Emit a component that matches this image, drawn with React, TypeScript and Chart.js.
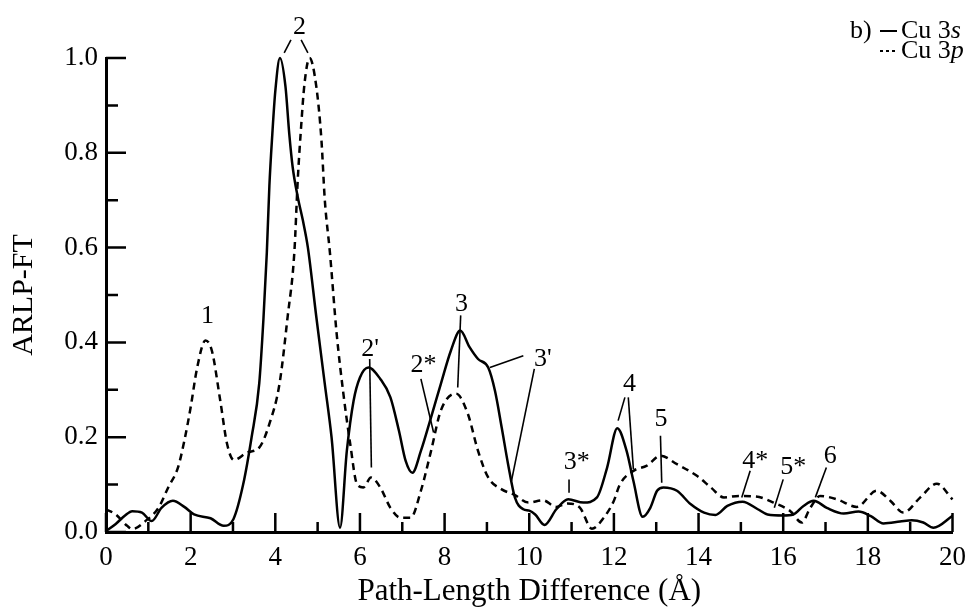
import { useEffect, useRef } from "react";
import { Chart, registerables } from "chart.js";
Chart.register(...registerables);

const FONT = '"Liberation Serif", "Times New Roman", serif';

// Cu 3s (solid)
const s3sX = [0, 0.23, 0.45, 0.62, 0.85, 1.08, 1.31, 1.58, 1.85, 2.08, 2.47, 2.78, 3.01, 3.24, 3.44, 3.62, 3.72, 3.8, 3.86, 3.93, 4.0, 4.11, 4.24, 4.33, 4.41, 4.53, 4.65, 4.77, 4.97, 5.17, 5.33, 5.53, 5.69, 5.85, 6.0, 6.2, 6.48, 6.72, 6.92, 7.08, 7.24, 7.44, 7.68, 7.91, 8.15, 8.37, 8.59, 8.79, 9.03, 9.19, 9.35, 9.5, 9.66, 9.86, 10.0, 10.14, 10.36, 10.64, 10.92, 11.28, 11.6, 11.84, 12.08, 12.3, 12.46, 12.68, 12.86, 13.02, 13.17, 13.49, 13.81, 14.13, 14.4, 14.68, 15.04, 15.4, 15.63, 16.0, 16.24, 16.48, 16.72, 17.03, 17.43, 17.78, 18.06, 18.37, 18.76, 19.04, 19.31, 19.55, 20.0];
const s3sY = [0.002, 0.017, 0.035, 0.044, 0.041, 0.023, 0.051, 0.066, 0.053, 0.037, 0.029, 0.013, 0.027, 0.1, 0.2, 0.313, 0.45, 0.59, 0.73, 0.84, 0.93, 1.0, 0.94, 0.84, 0.77, 0.707, 0.658, 0.6, 0.453, 0.312, 0.199, 0.009, 0.171, 0.277, 0.326, 0.347, 0.323, 0.284, 0.214, 0.15, 0.125, 0.171, 0.242, 0.312, 0.383, 0.425, 0.39, 0.365, 0.347, 0.298, 0.22, 0.143, 0.073, 0.048, 0.045, 0.037, 0.015, 0.048, 0.069, 0.062, 0.073, 0.136, 0.219, 0.171, 0.108, 0.032, 0.051, 0.087, 0.094, 0.087, 0.059, 0.041, 0.036, 0.055, 0.064, 0.048, 0.037, 0.035, 0.037, 0.055, 0.066, 0.051, 0.039, 0.043, 0.034, 0.018, 0.022, 0.025, 0.02, 0.009, 0.034];

// Cu 3p (dashed)
const s3pX = [0, 0.23, 0.5, 0.62, 0.93, 1.24, 1.47, 1.7, 1.85, 2.0, 2.15, 2.35, 2.5, 2.7, 2.86, 3.02, 3.34, 3.62, 3.86, 4.1, 4.29, 4.45, 4.53, 4.61, 4.69, 4.81, 4.97, 5.09, 5.17, 5.29, 5.45, 5.61, 5.77, 5.93, 6.08, 6.26, 6.48, 6.72, 6.96, 7.2, 7.44, 7.68, 7.91, 8.27, 8.55, 8.79, 9.03, 9.35, 9.66, 9.98, 10.32, 10.64, 10.9, 11.2, 11.48, 11.76, 12.0, 12.14, 12.46, 12.78, 13.1, 13.49, 13.97, 14.29, 14.6, 14.95, 15.35, 15.8, 16.17, 16.44, 16.64, 16.87, 17.27, 17.74, 18.21, 18.53, 18.84, 19.24, 19.63, 20.0];
const s3pY = [0.048, 0.037, 0.013, 0.006, 0.023, 0.051, 0.094, 0.136, 0.192, 0.263, 0.345, 0.404, 0.383, 0.277, 0.186, 0.152, 0.168, 0.178, 0.228, 0.313, 0.453, 0.59, 0.742, 0.855, 0.946, 1.0, 0.939, 0.827, 0.7, 0.59, 0.418, 0.291, 0.186, 0.101, 0.094, 0.115, 0.094, 0.051, 0.03, 0.03, 0.087, 0.171, 0.256, 0.292, 0.249, 0.171, 0.115, 0.09, 0.078, 0.062, 0.067, 0.053, 0.06, 0.051, 0.007, 0.03, 0.066, 0.1, 0.129, 0.14, 0.161, 0.143, 0.118, 0.094, 0.073, 0.076, 0.075, 0.061, 0.044, 0.02, 0.051, 0.076, 0.069, 0.053, 0.087, 0.066, 0.041, 0.073, 0.102, 0.069];

const xTickLabels = ["0", "2", "4", "6", "8", "10", "12", "14", "16", "18", "20"];
const yTickLabels = ["0.0", "0.2", "0.4", "0.6", "0.8", "1.0"];

// peak labels: text, label x, label y, leader lines [x1, y1, x2, y2] (data units)
const peakLabels: [string, number, number, number[][]][] = [
  ["1", 2.4, 0.455, []],
  ["2", 4.57, 1.066, [[4.37, 1.038, 4.21, 1.011], [4.61, 1.038, 4.77, 1.011]]],
  ["2'", 6.24, 0.386, [[6.23, 0.365, 6.27, 0.136]]],
  ["2*", 7.5, 0.351, [[7.44, 0.323, 7.74, 0.21]]],
  ["3", 8.4, 0.481, [[8.38, 0.457, 8.31, 0.305]]],
  ["3'", 10.32, 0.365, [[9.86, 0.372, 9.07, 0.347], [10.12, 0.344, 9.58, 0.108]]],
  ["3*", 11.12, 0.147, [[10.94, 0.111, 10.94, 0.083]]],
  ["4", 12.37, 0.312, [[12.26, 0.284, 12.1, 0.235], [12.34, 0.284, 12.46, 0.133]]],
  ["5", 13.11, 0.238, [[13.1, 0.203, 13.13, 0.104]]],
  ["4*", 15.34, 0.15, [[15.22, 0.129, 15.02, 0.073]]],
  ["5*", 16.24, 0.136, [[16.0, 0.111, 15.79, 0.051]]],
  ["6", 17.11, 0.161, [[17.02, 0.136, 16.76, 0.073]]],
];

const legendTag = "b)";
const seriesNames = ["Cu 3", "Cu 3"];
const seriesSuffix = ["s", "p"];

const toPts = (xs: number[], ys: number[]) => xs.map((x, i) => ({ x, y: ys[i] }));

const inwardTicks = {
  id: "inwardTicks",
  afterDatasetsDraw(chart: any) {
    const { ctx, chartArea: a, scales } = chart;
    ctx.save();
    ctx.strokeStyle = "#000";
    ctx.lineWidth = 2.5;
    ctx.beginPath();
    for (const t of scales.x.ticks) {
      const px = scales.x.getPixelForValue(t.value);
      const major = Math.round(t.value) % 2 === 0;
      ctx.moveTo(px, a.bottom);
      ctx.lineTo(px, a.bottom - (major ? 19 : 10));
    }
    for (const t of scales.y.ticks) {
      const py = scales.y.getPixelForValue(t.value);
      const major = Math.round(t.value * 10) % 2 === 0;
      ctx.moveTo(a.left, py);
      ctx.lineTo(a.left + (major ? 20 : 12), py);
    }
    ctx.stroke();
    ctx.restore();
  },
};

const annotations = {
  id: "annotations",
  afterDatasetsDraw(chart: any) {
    const { ctx, scales } = chart;
    const X = (v: number) => scales.x.getPixelForValue(v);
    const Y = (v: number) => scales.y.getPixelForValue(v);
    ctx.save();
    ctx.fillStyle = "#000";
    ctx.strokeStyle = "#000";
    ctx.lineWidth = 1.6;
    ctx.font = `26px ${FONT}`;
    ctx.textAlign = "center";
    ctx.textBaseline = "middle";
    for (const [txt, lx, ly, lines] of peakLabels) {
      ctx.fillText(txt, X(lx), Y(ly));
      for (const [x1, y1, x2, y2] of lines) {
        ctx.beginPath();
        ctx.moveTo(X(x1), Y(y1));
        ctx.lineTo(X(x2), Y(y2));
        ctx.stroke();
      }
    }
    // legend
    ctx.textAlign = "left";
    ctx.font = `26px ${FONT}`;
    ctx.fillText(legendTag, 850, 31);
    const rows = [31, 51];
    rows.forEach((ry, i) => {
      ctx.beginPath();
      ctx.lineWidth = 2;
      ctx.setLineDash(i === 0 ? [] : [3, 3]);
      ctx.moveTo(880, ry);
      ctx.lineTo(897, ry);
      ctx.stroke();
      ctx.setLineDash([]);
      ctx.font = `26px ${FONT}`;
      ctx.fillText(seriesNames[i], 901, ry);
      const w = ctx.measureText(seriesNames[i]).width;
      ctx.font = `italic 26px ${FONT}`;
      ctx.fillText(seriesSuffix[i], 901 + w, ry);
    });
    ctx.restore();
  },
};

export default function App() {
  const ref = useRef<HTMLCanvasElement>(null);
  useEffect(() => {
    const chart = new Chart(ref.current!, {
      type: "line",
      data: {
        datasets: [
          {
            label: "Cu 3s",
            data: toPts(s3sX, s3sY),
            borderColor: "#000",
            borderWidth: 2.5,
            pointRadius: 0,
            cubicInterpolationMode: "monotone",
            clip: false as any,
          },
          {
            label: "Cu 3p",
            data: toPts(s3pX, s3pY),
            borderColor: "#000",
            borderWidth: 2.5,
            borderDash: [7, 5],
            pointRadius: 0,
            cubicInterpolationMode: "monotone",
            clip: false as any,
          },
        ],
      },
      options: {
        responsive: false,
        animation: false,
        layout: { padding: { left: 0, top: 58, right: 19, bottom: 0 } },
        plugins: { legend: { display: false }, tooltip: { enabled: false } },
        scales: {
          x: {
            type: "linear",
            min: 0,
            max: 20,
            grid: { display: false, drawTicks: false },
            border: { display: true, width: 3, color: "#000" },
            ticks: {
              stepSize: 1,
              padding: 10,
              color: "#000",
              font: { family: FONT, size: 27 },
              maxRotation: 0,
              autoSkip: false,
              callback: (v: any) => {
                const s = String(Math.round(v));
                return xTickLabels.includes(s) && Math.round(v) === v ? s : "";
              },
            },
            title: {
              display: true,
              text: "Path-Length Difference (Å)",
              color: "#000",
              font: { family: FONT, size: 31 },
              padding: { top: 0, bottom: 0 },
            },
            afterFit: (s: any) => {
              s.height = 78;
            },
          },
          y: {
            type: "linear",
            min: 0,
            max: 1,
            grid: { display: false, drawTicks: false },
            border: { display: true, width: 3, color: "#000" },
            ticks: {
              stepSize: 0.1,
              padding: 8,
              color: "#000",
              font: { family: FONT, size: 27 },
              autoSkip: false,
              callback: (v: any) => {
                const s = Number(v).toFixed(1);
                return yTickLabels.includes(s) ? s : "";
              },
            },
            title: {
              display: true,
              text: "ARLP-FT",
              color: "#000",
              font: { family: FONT, size: 30 },
              padding: { top: 6, bottom: 0 },
            },
            afterFit: (s: any) => {
              s.width = 106;
            },
          },
        },
      },
      plugins: [inwardTicks, annotations],
    });
    return () => chart.destroy();
  }, []);
  return (
    <canvas
      ref={ref}
      width={976}
      height={610}
      style={{ position: "absolute", left: 0, top: 0, background: "#fff" }}
    />
  );
}
